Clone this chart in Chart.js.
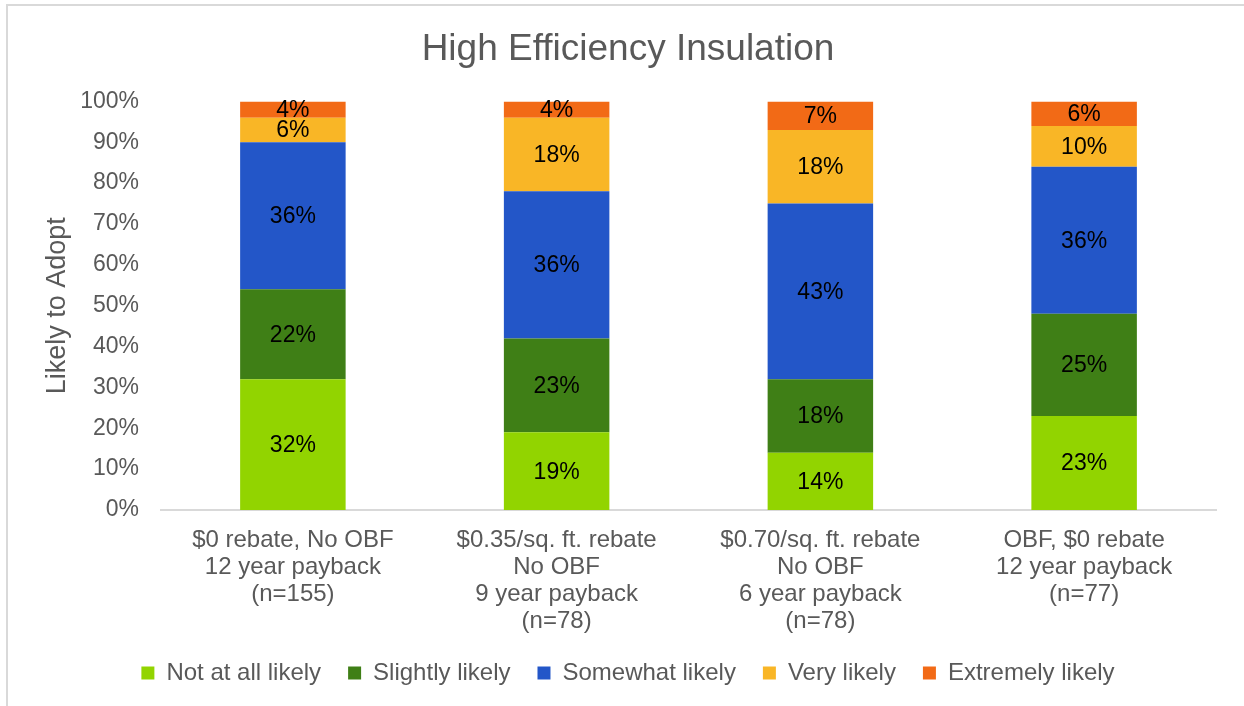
<!DOCTYPE html>
<html>
<head>
<meta charset="utf-8">
<script src="https://cdn.jsdelivr.net/npm/chart.js@4.4.1/dist/chart.umd.min.js"></script>
<style>
    html, body { margin: 0; padding: 0; background: #fff; }
    #wrap { position: relative; width: 1244px; height: 706px; }
    #frame { position: absolute; left: 6px; top: 4px; right: 0; bottom: 0;
             border-top: 2px solid #d9d9d9; border-left: 2px solid #d9d9d9; }
    #chart { position: absolute; left: 0; top: 0; }
</style>
</head>
<body>
<div id="wrap">
    <div id="frame"></div>
    <canvas id="chart" width="1244" height="706"></canvas>
</div>
<script>
// categories (x axis, multi-line)
const categories = [
    ['$0 rebate, No OBF', '12 year payback', '(n=155)'],
    ['$0.35/sq. ft. rebate', 'No OBF', '9 year payback', '(n=78)'],
    ['$0.70/sq. ft. rebate', 'No OBF', '6 year payback', '(n=78)'],
    ['OBF, $0 rebate', '12 year payback', '(n=77)']
];

// series values (percent)
const notAtAll   = [32, 19, 14, 23];
const slightly   = [22, 23, 18, 25];
const somewhat   = [36, 36, 43, 36];
const very       = [6, 18, 18, 10];
const extremely  = [4, 4, 7, 6];

const seriesNames = ['Not at all likely', 'Slightly likely', 'Somewhat likely', 'Very likely', 'Extremely likely'];
const seriesColors = ['#92d400', '#3f7f16', '#2356c8', '#f9b626', '#f26a16'];

// y ticks
const yTicks = [0, 10, 20, 30, 40, 50, 60, 70, 80, 90, 100];

const FONT = "'Liberation Sans', Arial, sans-serif";
const GREY = '#595959';

// draws the % inside each segment
const segmentLabels = {
    id: 'segmentLabels',
    afterDatasetsDraw(chart) {
        const ctx = chart.ctx;
        ctx.save();
        ctx.font = '23px ' + FONT;
        ctx.fillStyle = '#000';
        ctx.textAlign = 'center';
        ctx.textBaseline = 'middle';
        chart.data.datasets.forEach((ds, i) => {
            chart.getDatasetMeta(i).data.forEach((bar, j) => {
                const p = bar.getCenterPoint();
                ctx.fillText(ds.data[j] + '%', p.x, p.y + 1);
            });
        });
        ctx.restore();
    }
};

const allSeries = [notAtAll, slightly, somewhat, very, extremely];

new Chart(document.getElementById('chart'), {
    type: 'bar',
    data: {
        labels: categories,
        datasets: allSeries.map((vals, i) => ({
            label: seriesNames[i],
            data: vals,
            backgroundColor: seriesColors[i],
            borderWidth: 0,
            barPercentage: 0.8,
            categoryPercentage: 0.5
        }))
    },
    options: {
        responsive: false,
        animation: false,
        layout: { padding: { top: 10, right: 28, bottom: 11, left: 40 } },
        plugins: {
            title: {
                display: true,
                text: 'High Efficiency Insulation',
                color: GREY,
                font: { family: FONT, size: 37, weight: 'normal' },
                padding: { top: 18, bottom: 29 }
            },
            legend: {
                position: 'bottom',
                labels: {
                    color: GREY,
                    font: { family: FONT, size: 24 },
                    boxWidth: 13,
                    boxHeight: 13,
                    padding: 27
                }
            },
            tooltip: { enabled: false }
        },
        scales: {
            x: {
                stacked: true,
                grid: { display: false },
                border: { display: true, color: '#d9d9d9', width: 2 },
                afterFit(scale) {
                    // labels run into the legend's top padding, so no clipping
                    scale._computeLabelArea = () => undefined;
                    scale.height -= 10;
                },
                ticks: {
                    color: GREY,
                    font: { family: FONT, size: 24, lineHeight: 1.125 },
                    padding: 9,
                    maxRotation: 0,
                    autoSkip: false
                }
            },
            y: {
                stacked: true,
                min: 0,
                max: 100,
                grid: { display: false, drawTicks: false },
                border: { display: false },
                afterFit(scale) { scale.width = 121; },
                afterBuildTicks(scale) { scale.ticks = yTicks.map(v => ({ value: v })); },
                ticks: {
                    color: GREY,
                    font: { family: FONT, size: 23 },
                    padding: 22,
                    callback: v => v + '%'
                },
                title: {
                    display: true,
                    text: 'Likely to Adopt',
                    color: GREY,
                    font: { family: FONT, size: 27 },
                    padding: { top: 1, bottom: 0 }
                }
            }
        }
    },
    plugins: [segmentLabels]
});
</script>
</body>
</html>
